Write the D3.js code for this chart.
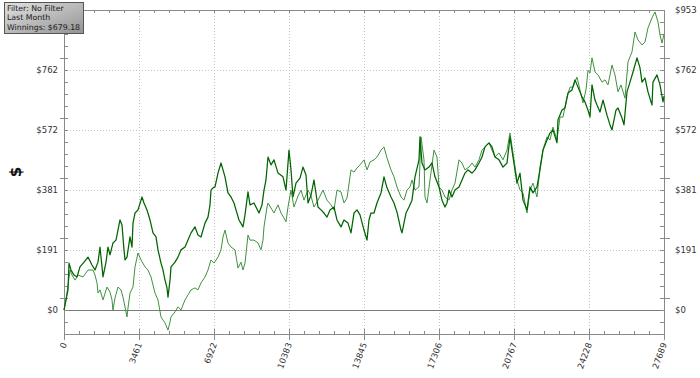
<!DOCTYPE html>
<html><head><meta charset="utf-8">
<script src="https://cdn.jsdelivr.net/npm/d3@7"></script>
<style>
body{margin:0;background:#fff;}
text{font-family:"DejaVu Sans",Verdana,sans-serif;}
</style>
</head><body>
<svg id="c" width="700" height="378"></svg>
<script>
const xTickLabels = ["0","3461","6922","10383","13845","17306","20767","24228","27689"];
const yTickLabels = ["$0","$191","$381","$572","$762","$953"];
const infoLines = ["Filter: No Filter","Last Month","Winnings: $679.18"];
const yTitle = "$";

const darkHands = [0,92,185,231,323,461,600,738,923,1108,1292,1431,1569,1661,1754,1800,1938,2031,2123,2261,2400,2584,2677,2769,2815,2907,3046,3138,3184,3277,3415,3600,3692,3830,3969,4107,4246,4338,4476,4569,4661,4753,4799,4892,4938,5122,5261,5399,5584,5722,5861,6045,6184,6322,6507,6645,6738,6784,6876,6968,7107,7245,7338,7430,7568,7707,7845,7937,8076,8260,8353,8491,8584,8768,8999,9137,9230,9322,9414,9553,9691,9876,10106,10245,10383,10476,10568,10706,10891,11029,11168,11260,11399,11537,11722,11860,11998,12137,12275,12460,12598,12783,12921,13106,13244,13383,13521,13660,13844,13983,14075,14167,14306,14444,14629,14767,14906,15090,15229,15367,15552,15598,15783,15921,16060,16198,16383,16429,16521,16659,16844,16982,17121,17306,17444,17582,17675,17767,17905,18044,18228,18367,18505,18644,18828,18967,19151,19290,19428,19613,19751,19890,20074,20259,20444,20582,20720,20905,21043,21182,21367,21505,21643,21828,21966,22105,22289,22428,22566,22751,22797,22982,23120,23259,23443,23582,23720,23905,24043,24182,24274,24366,24505,24597,24735,24874,25058,25197,25289,25474,25566,25751,25843,25981,26120,26258,26443,26581,26674,26812,26950,27135,27181,27366,27504,27643,27689];
const darkWin = [0,32,64,149,127,111,105,137,152,168,143,127,152,200,137,105,152,200,175,213,222,286,270,191,159,168,232,200,276,308,318,359,340,318,286,245,232,191,149,127,95,70,41,95,137,152,168,191,200,222,245,264,238,232,276,295,334,381,388,391,435,467,445,423,372,359,340,318,286,264,302,375,334,340,308,334,381,413,486,461,477,435,423,381,508,445,359,403,419,454,429,340,365,413,327,318,308,295,318,327,286,264,286,276,245,308,318,302,254,222,286,308,308,340,372,423,388,359,340,311,254,245,308,327,349,423,477,550,467,445,454,467,423,391,349,327,340,381,359,381,391,413,435,445,435,445,467,486,518,531,518,486,477,454,467,550,486,403,435,349,318,391,372,391,445,508,540,562,572,531,604,635,642,689,699,731,708,677,661,635,613,715,667,651,629,667,619,588,572,635,642,610,588,693,724,756,801,769,724,737,693,651,724,747,715,661,679.18];

const lightHands = [0,92,185,277,369,508,646,877,1108,1338,1431,1523,1569,1661,1800,1984,2123,2215,2261,2354,2492,2630,2723,2815,2907,2953,3046,3184,3277,3415,3553,3738,3876,4015,4199,4338,4476,4569,4661,4799,4892,4938,5122,5261,5399,5584,5722,5861,6045,6184,6322,6507,6645,6784,6922,7107,7245,7338,7430,7568,7707,7891,8030,8168,8260,8353,8491,8584,8768,8953,9091,9183,9230,9368,9414,9553,9691,9876,10014,10153,10245,10337,10476,10614,10799,10937,11076,11260,11399,11537,11722,11952,12137,12322,12460,12598,12783,12921,13060,13244,13383,13521,13660,13844,13983,14121,14306,14444,14629,14767,14906,15090,15229,15367,15552,15690,15829,15967,16060,16198,16383,16475,16613,16659,16752,16890,17075,17213,17306,17444,17582,17767,17905,18044,18228,18367,18505,18690,18828,18967,19151,19290,19428,19613,19751,19890,20074,20259,20444,20582,20720,20905,21043,21182,21367,21505,21643,21828,21966,22105,22289,22428,22566,22751,22889,23028,23212,23351,23489,23674,23812,23951,24089,24182,24274,24366,24505,24643,24828,24966,25104,25289,25427,25566,25704,25889,26028,26212,26351,26489,26674,26812,26950,27135,27274,27412,27504,27597,27689];
const lightWin = [0,32,79,127,111,95,111,105,127,127,111,86,54,64,32,73,57,32,0,38,73,64,41,10,-22,6,54,73,137,181,159,137,127,105,54,32,-22,-32,-41,-64,-38,-22,-6,10,0,32,48,64,70,64,86,105,127,159,149,168,191,232,254,213,200,191,133,152,127,149,238,222,222,213,191,222,264,327,340,324,308,334,308,292,280,327,381,327,362,381,349,381,362,327,349,381,349,334,318,381,375,340,356,445,438,451,461,477,445,470,477,486,508,518,483,445,423,391,359,349,381,391,413,381,391,550,477,359,340,413,508,486,391,381,359,349,381,403,477,467,445,454,467,454,477,508,518,531,508,486,499,477,508,562,499,413,381,372,308,381,403,359,454,508,550,540,581,540,613,613,677,708,708,740,699,658,699,762,753,801,756,747,724,731,715,778,747,693,715,673,788,820,883,858,842,851,896,928,947,915,874,848,877];

const L=64,R=664,T=10,B=334;
const xMax=27689, yMax=953;
const yMajorStep=yMax/5, yMinorStep=yMajorStep/5;
const xMajorStep=xMax/8, xMinorStep=xMajorStep/5;
const yMin=-2*yMinorStep;

const svg=d3.select("#c");
const x=d3.scaleLinear().domain([0,xMax]).range([L,R]);
const y=d3.scaleLinear().domain([yMin,yMax]).range([B,T]);

const axisCol="#8a8a8a", gridCol="#c4c4c4", textCol="#333";

const xMajor=d3.range(0,9).map(i=>i*xMajorStep);
const xMinor=d3.range(0,41).map(i=>i*xMinorStep);
const yMajor=d3.range(0,6).map(i=>i*yMajorStep);
const yMinor=d3.range(-2,26).map(i=>i*yMinorStep);

// gridlines
svg.append("g").selectAll("line").data(xMajor.slice(1,8)).join("line")
  .attr("x1",d=>Math.round(x(d))+0.5).attr("x2",d=>Math.round(x(d))+0.5)
  .attr("y1",T).attr("y2",B)
  .attr("stroke",gridCol).attr("stroke-dasharray","1,2");
svg.append("g").selectAll("line").data(yMajor.slice(1,5)).join("line")
  .attr("x1",L).attr("x2",R)
  .attr("y1",d=>Math.round(y(d))+0.5).attr("y2",d=>Math.round(y(d))+0.5)
  .attr("stroke",gridCol).attr("stroke-dasharray","1,2");
// zero line
svg.append("line").attr("x1",L).attr("x2",R)
  .attr("y1",Math.round(y(0))+0.5).attr("y2",Math.round(y(0))+0.5)
  .attr("stroke","#7a7a7a");

// frame
const fr=svg.append("g").attr("stroke",axisCol).attr("fill","none");
fr.append("line").attr("x1",L).attr("x2",R).attr("y1",T+0.5).attr("y2",T+0.5);
fr.append("line").attr("x1",L).attr("x2",R).attr("y1",B+0.5).attr("y2",B+0.5);
fr.append("line").attr("x1",L+0.5).attr("x2",L+0.5).attr("y1",T).attr("y2",B);
fr.append("line").attr("x1",R+0.5).attr("x2",R+0.5).attr("y1",T).attr("y2",B);

// ticks top & bottom
xMinor.forEach((d,i)=>{
  const px=Math.round(x(d))+0.5, major=i%5===0;
  fr.append("line").attr("x1",px).attr("x2",px).attr("y1",T).attr("y2",T+3);
  fr.append("line").attr("x1",px).attr("x2",px).attr("y1",major?B-5:B-3).attr("y2",major?B+6:B);
});
// ticks left & right
yMinor.forEach((d,i)=>{
  const py=Math.round(y(d))+0.5, major=(i+2)%5===0 && d>=0;
  fr.append("line").attr("y1",py).attr("y2",py).attr("x1",major?L-4:L).attr("x2",L+4);
  fr.append("line").attr("y1",py).attr("y2",py).attr("x1",R-4).attr("x2",major?R+6:R);
});

// y labels (the top-left one is hidden under the info box in the reference)
const yl=svg.append("g").attr("font-size","8.5px").attr("fill",textCol);
yMajor.forEach((d,i)=>{
  if (i < yMajor.length-1)
    yl.append("text").attr("x",L-6).attr("y",y(d)).attr("dy","0.35em").attr("text-anchor","end").text(yTickLabels[i]);
  yl.append("text").attr("x",R+11).attr("y",y(d)).attr("dy","0.35em").attr("text-anchor","start").text(yTickLabels[i]);
});
// x labels
xMajor.forEach((d,i)=>{
  svg.append("text").attr("font-size","8.5px").attr("fill",textCol)
    .attr("text-anchor","end")
    .attr("transform",`translate(${x(d)+3},${B+10}) rotate(-70)`)
    .text(xTickLabels[i]);
});
// y title
svg.append("text").attr("transform","translate(16,172) rotate(-90)")
  .attr("text-anchor","middle").attr("dy","0.35em")
  .attr("font-size","15px").attr("font-weight","bold").attr("fill","#111").text(yTitle);

// series
const line=d3.line().x(d=>x(d[0])).y(d=>y(d[1]));
svg.append("path").datum(lightHands.map((h,i)=>[h,lightWin[i]]))
  .attr("d",line).attr("fill","none").attr("stroke","#3f913f").attr("stroke-width",1).attr("stroke-linejoin","round");
svg.append("path").datum(darkHands.map((h,i)=>[h,darkWin[i]]))
  .attr("d",line).attr("fill","none").attr("stroke","#006400").attr("stroke-width",1.25).attr("stroke-linejoin","round");

// info box
const defs=svg.append("defs");
const g=defs.append("linearGradient").attr("id","bg").attr("x1","0").attr("y1","0").attr("x2","1").attr("y2","1");
g.append("stop").attr("offset","0%").attr("stop-color","#e2e2e2");
g.append("stop").attr("offset","100%").attr("stop-color","#939393");
svg.append("rect").attr("x",4.5).attr("y",2.5).attr("width",79).attr("height",31)
  .attr("fill","url(#bg)").attr("stroke","#555");
infoLines.forEach((t,i)=>{
  svg.append("text").attr("x",7).attr("y",10.5+i*9.8).attr("font-size","7.8px").attr("fill","#1a1a1a").text(t);
});
</script>
</body></html>
